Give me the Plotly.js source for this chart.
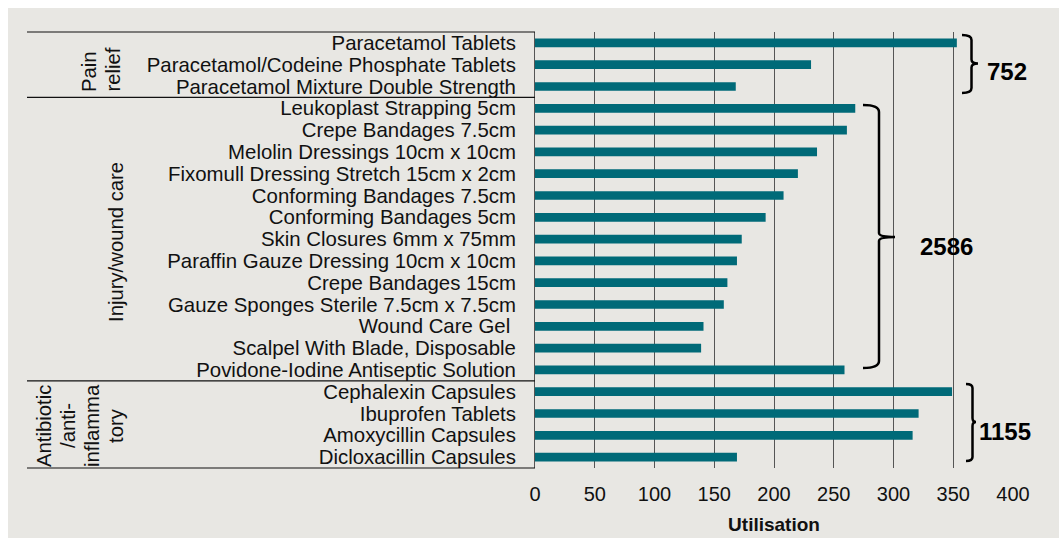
<!DOCTYPE html>
<html><head><meta charset="utf-8">
<script src="https://cdn.plot.ly/plotly-3.0.1.min.js"></script>
<style>
html,body{margin:0;padding:0;background:#ffffff;}
#chart{position:absolute;left:8px;top:8px;width:1051px;height:530px;}
</style></head><body><div id="chart"></div>
<script>
// ---- data ----
const categories = [
  "Paracetamol Tablets",
  "Paracetamol/Codeine Phosphate Tablets",
  "Paracetamol Mixture Double Strength",
  "Leukoplast Strapping 5cm",
  "Crepe Bandages 7.5cm",
  "Melolin Dressings 10cm x 10cm",
  "Fixomull Dressing Stretch 15cm x 2cm",
  "Conforming Bandages 7.5cm",
  "Conforming Bandages 5cm",
  "Skin Closures 6mm x 75mm",
  "Paraffin Gauze Dressing 10cm x 10cm",
  "Crepe Bandages 15cm",
  "Gauze Sponges Sterile 7.5cm x 7.5cm",
  "Wound Care Gel ",
  "Scalpel With Blade, Disposable",
  "Povidone-Iodine Antiseptic Solution",
  "Cephalexin Capsules",
  "Ibuprofen Tablets",
  "Amoxycillin Capsules",
  "Dicloxacillin Capsules"
];
const utilisation = [353, 231, 168, 268, 261, 236, 220, 208, 193, 173, 169, 161, 158, 141, 139, 259, 349, 321, 316, 169];
const groupLabels = [["Pain", "relief"], ["Injury/wound care"], ["Antibiotic", "/anti-", "inflamma", "tory"]];
const groupSizes = [3, 13, 4];
const groupTotals = [752, 2586, 1155];
const xTickVals = [0, 50, 100, 150, 200, 250, 300, 350, 400];
const xAxisTitle = "Utilisation";

// ---- layout geometry (page pixels; div is offset by 8px) ----
const OFF = 8, W = 1051, H = 530;
const M = {l: 527, r: 46, t: 24, b: 70};
const PW = W - M.l - M.r, PH = H - M.t - M.b;
const px = x => (x - OFF - M.l) / PW;        // page x -> paper
const py = y => 1 - (y - OFF - M.t) / PH;    // page y -> paper
const nCat = categories.length;
const rowY = k => 1 - k / nCat;               // boundary k in paper

const FONT = '"Liberation Sans", Arial, sans-serif';
const BG = '#e8e7e3';

const shapes = [];
const annotations = [];

// group box lines in the label area
const boxLeft = px(27), boxRight = 0;
let k = 0;
const bounds = [0];
groupSizes.forEach(s => { k += s; bounds.push(k); });
bounds.forEach(b => {
  shapes.push({type: 'line', xref: 'paper', yref: 'paper', x0: boxLeft, x1: boxRight,
    y0: rowY(b), y1: rowY(b), line: {color: '#111', width: 1.2}});
});

// group labels (rotated)
const groupLabelPos = [
  {x: 100.5, y: 94, anchor: 'bottom'},
  {x: 116, y: 242, anchor: 'middle'},
  {x: 80, y: 426, anchor: 'middle'}
];
groupLabels.forEach((lines, g) => {
  const p = groupLabelPos[g];
  lines.forEach((ln, i) => {
    annotations.push({xref: 'paper', yref: 'paper', x: px(p.x + (i - (lines.length - 1) / 2) * 24),
      y: py(p.y), text: ln, showarrow: false, textangle: -90,
      xanchor: 'center', yanchor: p.anchor, font: {family: FONT, size: 20.3, color: '#111'}});
  });
});

// braces with group totals
const braces = [
  {x0: 962, xv: 971.5, xt: 978, top: 35, mid: 63.5, bot: 93, r: 5, tx: 985, ty: 71.7},
  {x0: 863, xv: 879, xt: 895, top: 105, mid: 237, bot: 368, r: 7, tx: 918, ty: 246.7},
  {x0: 966, xv: 972.5, xt: 976, top: 384, mid: 422, bot: 461, r: 4, tx: 977, ty: 431.7}
];
const P = (x, y) => px(x).toFixed(5) + ',' + py(y).toFixed(5);
braces.forEach((b, g) => {
  const r2 = 4;
  const path = 'M' + P(b.x0, b.top) +
    ' Q' + P(b.xv, b.top) + ' ' + P(b.xv, b.top + b.r) +
    ' L' + P(b.xv, b.mid - r2) +
    ' Q' + P(b.xv, b.mid) + ' ' + P(b.xt, b.mid) +
    ' M' + P(b.xt, b.mid) +
    ' Q' + P(b.xv, b.mid) + ' ' + P(b.xv, b.mid + r2) +
    ' L' + P(b.xv, b.bot - b.r) +
    ' Q' + P(b.xv, b.bot) + ' ' + P(b.x0, b.bot);
  shapes.push({type: 'path', xref: 'paper', yref: 'paper', path: path,
    line: {color: '#000', width: 2.5}});
  annotations.push({xref: 'paper', yref: 'paper', x: px(b.tx), y: py(b.ty),
    text: String(groupTotals[g]), showarrow: false, xanchor: 'left', yanchor: 'middle',
    font: {family: FONT, size: 24, color: '#000', weight: 'bold'}});
});

const trace = {
  type: 'bar', orientation: 'h',
  y: categories, x: utilisation,
  marker: {color: '#006a78', line: {width: 0}},
  width: 0.4,
  hoverinfo: 'none'
};

const layout = {
  width: W, height: H,
  margin: M,
  paper_bgcolor: BG, plot_bgcolor: BG,
  showlegend: false,
  font: {family: FONT, color: '#111'},
  xaxis: {
    range: [0, 400], tickmode: 'array', tickvals: xTickVals, ticktext: xTickVals.map(String),
    showgrid: true, gridcolor: '#555', gridwidth: 1, zeroline: false, showline: false,
    ticks: '', ticklabelstandoff: 12, tickfont: {family: FONT, size: 20, color: '#111'},
    title: {text: xAxisTitle, font: {family: FONT, size: 19, color: '#111', weight: 'bold'}, standoff: 13},
    fixedrange: true
  },
  yaxis: {
    type: 'category', autorange: 'reversed',
    tickmode: 'array', tickvals: categories, ticktext: categories,
    showgrid: false, zeroline: false, showline: true, linecolor: '#555', linewidth: 1,
    ticks: '', ticklabelstandoff: 14, tickfont: {family: FONT, size: 20.4, color: '#111'},
    fixedrange: true
  },
  shapes: shapes,
  annotations: annotations
};

Plotly.newPlot('chart', [trace], layout, {displayModeBar: false, staticPlot: true});
</script></body></html>
